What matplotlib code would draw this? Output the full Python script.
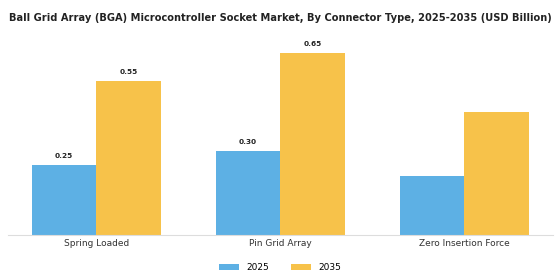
import numpy as np
import matplotlib.pyplot as plt

categories = ['Spring Loaded', 'Pin Grid Array', 'Zero Insertion Force']
years = ['2025', '2035']
v2025 = [0.25, 0.30, 0.21]
v2035 = [0.55, 0.65, 0.44]
labels2025 = ['0.25', '0.30', '']
labels2035 = ['0.55', '0.65', '']

blue = '#5DB0E4'
yellow = '#F7C24A'

fig = plt.figure(figsize=(5.6, 2.8), dpi=100)
ax = fig.add_axes([0.014, 0.161, 0.973, 0.70])

ind = np.arange(len(categories))
w = 0.35
b1 = ax.bar(ind - w / 2, v2025, w, color=blue, label=years[0])
b2 = ax.bar(ind + w / 2, v2035, w, color=yellow, label=years[1])

for bars, labs in ((b1, labels2025), (b2, labels2035)):
    for rect, lab in zip(bars, labs):
        if lab:
            ax.text(rect.get_x() + rect.get_width() / 2, rect.get_height() + 0.02, lab,
                    ha='center', va='bottom', fontsize=5.3, fontweight='bold', color='#222222')

ax.set_xlim(-0.48, 2.48)
ax.set_ylim(0, 0.7)
ax.set_xticks(ind)
ax.set_xticklabels(categories, fontsize=6.5, color='#333333')
ax.tick_params(axis='x', length=0, pad=3)
ax.set_yticks([])
for s in ('top', 'right', 'left'):
    ax.spines[s].set_visible(False)
ax.spines['bottom'].set_color('#dddddd')

fig.suptitle('Ball Grid Array (BGA) Microcontroller Socket Market, By Connector Type, 2025-2035 (USD Billion)',
             fontsize=7.1, fontweight='bold', y=0.955, color='#222222')

fig.legend(loc='lower center', bbox_to_anchor=(0.5, 0.0), ncol=2, frameon=False, fontsize=6.5,
           handlelength=2.2, handleheight=0.6, columnspacing=2.5)

fig.savefig('out.png', dpi=100)
